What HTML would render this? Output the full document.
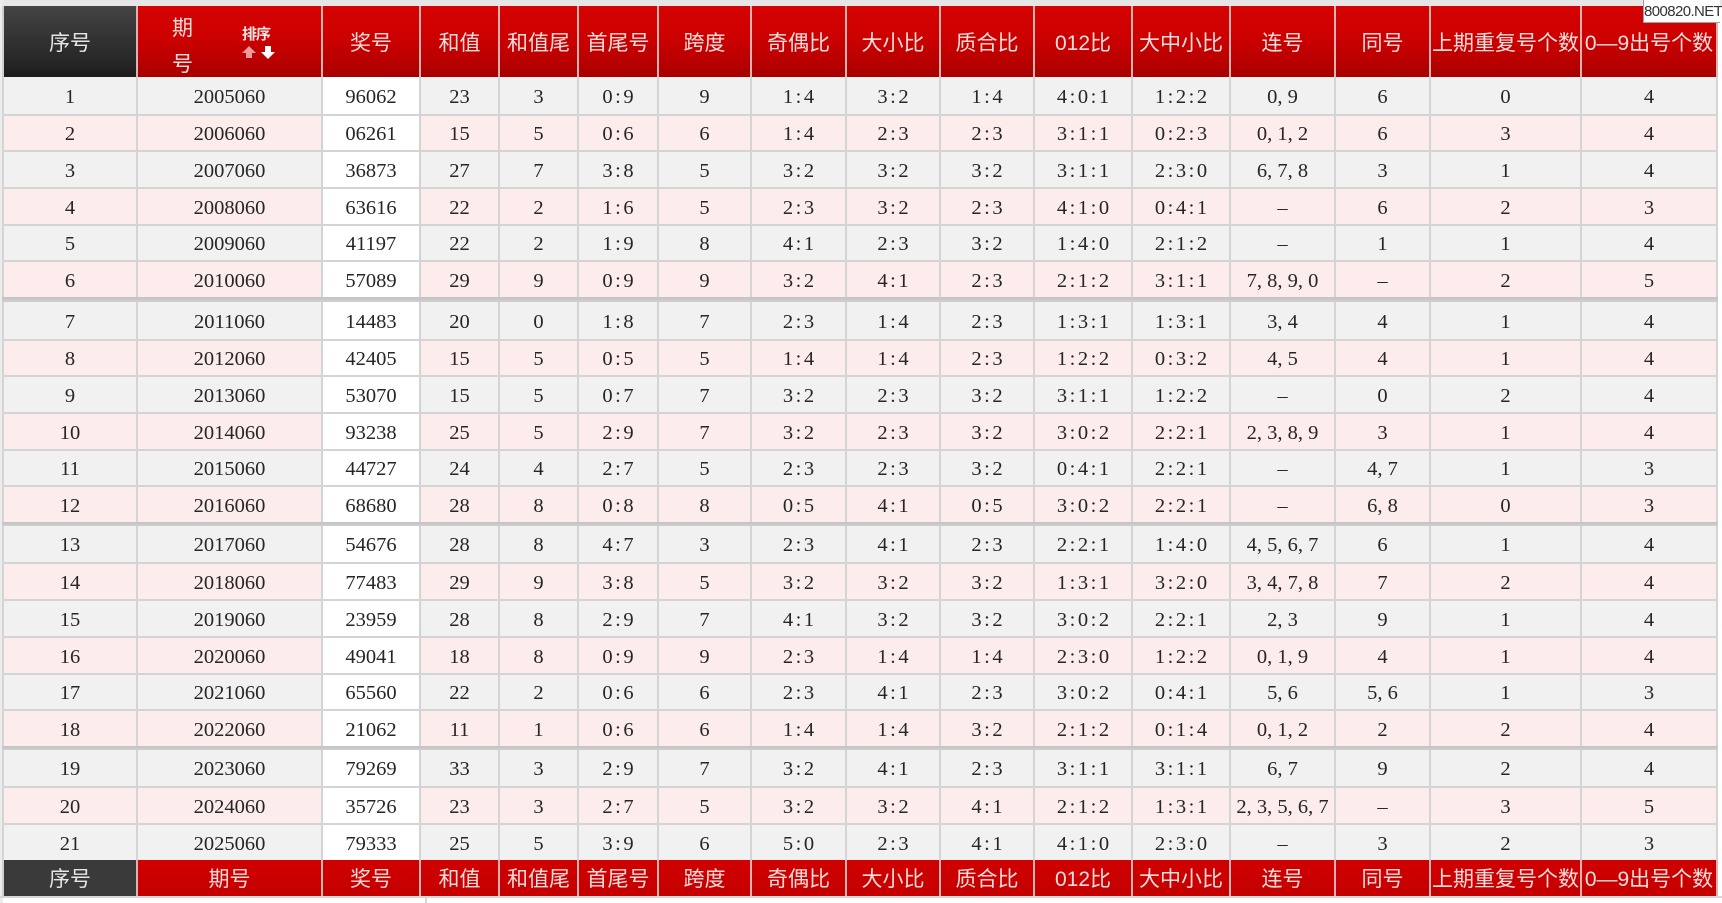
<!DOCTYPE html>
<html><head><meta charset="utf-8">
<style>
html,body{margin:0;padding:0}
body{width:1722px;height:903px;position:relative;overflow:hidden;background:#fff;font-family:"Liberation Serif","Noto Serif CJK SC",serif;}
.top{position:absolute;left:0;top:0;width:1722px;height:6px;background:#e6e6e6;border-bottom:0}
.lft{position:absolute;left:0;top:0;width:3px;height:903px;background:#ececec}
.r{position:absolute;left:2px;width:1716px;display:flex;box-sizing:border-box;border-top:2px solid #d4d4d4;color:#262626;font-size:20.5px}
.r.n{border-top:0}
.r span{box-sizing:border-box;border-left:2px solid #d4d4d4;display:flex;align-items:center;justify-content:center;height:100%;white-space:nowrap;padding-top:3px}
.r span:last-child{border-right:2px solid #d4d4d4}
.o{background:#f1f1f1}
.e{background:#fcecec}
.r span:nth-child(3){background:#fff}
.r span.s{letter-spacing:2.5px;padding-left:2.5px}
span:nth-child(1){width:134px}
span:nth-child(2){width:185px}
span:nth-child(3){width:98px}
span:nth-child(4){width:79px}
span:nth-child(5){width:79px}
span:nth-child(6){width:80px}
span:nth-child(7){width:93px}
span:nth-child(8){width:95px}
span:nth-child(9){width:94px}
span:nth-child(10){width:94px}
span:nth-child(11){width:98px}
span:nth-child(12){width:98px}
span:nth-child(13){width:105px}
span:nth-child(14){width:95px}
span:nth-child(15){width:151px}
span:nth-child(16){width:138px}
.sep{position:absolute;left:2px;width:1716px;background:linear-gradient(#c2c2c2,#d0d0d0)}
.h{position:absolute;left:2px;width:1716px;display:flex;box-sizing:border-box;font-family:"Liberation Sans","Noto Sans CJK SC",sans-serif;font-size:21px;color:#f9dede}
.h span{box-sizing:border-box;border-left:2px solid #dcb2b2;display:flex;align-items:center;justify-content:center;height:100%;white-space:nowrap;position:relative}
.h span:last-child{border-right:2px solid #dcb2b2}
.hd{top:6px;height:71px;background:linear-gradient(#d60303 0%,#cc0000 45%,#b80000 80%,#a60000 100%)}
.hd span:first-child{background:linear-gradient(#444 0%,#333 45%,#262626 80%,#1c1c1c 100%);color:#e6e6e6;border-left:2px solid #cfcfcf}
.ft{top:860px;height:36px;background:linear-gradient(#d00000,#c40000)}
.ft span:first-child{background:#3a3a3a;color:#e6e6e6;border-left:2px solid #cfcfcf}
.wm{position:absolute;left:1643px;top:0;width:76px;height:22px;background:#fff;border-left:1px solid #a0a0a0;border-bottom:1px solid #a0a0a0;font-family:"Liberation Sans",sans-serif;font-size:15px;color:#333;line-height:23px;text-align:center;letter-spacing:-0.6px}
.bot{position:absolute;left:0;top:896px;width:1722px;height:2px;background:#d6d6d6}
.bl{position:absolute;left:425px;top:896px;width:2px;height:7px;background:#d6d6d6}
</style></head><body>
<div class="top"></div>
<div class="lft"></div>

<div class="h hd">
<span>序号</span>
<span><b style="position:absolute;left:34px;top:6px;font-weight:normal">期</b><b style="position:absolute;left:34px;top:42px;font-weight:normal">号</b><b style="position:absolute;left:104px;top:17px;font-size:15px;color:#fde6e6;letter-spacing:-1px">排序</b><svg style="position:absolute;left:104px;top:39px" width="34" height="15" viewBox="0 0 34 15"><path d="M7 1 L14 8 L10 8 L10 13 L4 13 L4 8 L0 8 Z" fill="#e99c9c"/><path d="M19 7 L23 7 L23 1 L29 1 L29 7 L33 7 L26 14 Z" fill="#ffffff"/></svg></span>
<span>奖号</span><span>和值</span><span>和值尾</span><span>首尾号</span><span>跨度</span><span>奇偶比</span><span>大小比</span><span>质合比</span><span>012比</span><span>大中小比</span><span>连号</span><span>同号</span><span>上期重复号个数</span><span>0—9出号个数</span>
</div>

<div class="r o n" style="top:77px;height:37px"><span>1</span><span>2005060</span><span>96062</span><span>23</span><span>3</span><span class="s">0:9</span><span>9</span><span class="s">1:4</span><span class="s">3:2</span><span class="s">1:4</span><span class="s">4:0:1</span><span class="s">1:2:2</span><span>0, 9</span><span>6</span><span>0</span><span>4</span></div>
<div class="r e" style="top:114px;height:36px"><span>2</span><span>2006060</span><span>06261</span><span>15</span><span>5</span><span class="s">0:6</span><span>6</span><span class="s">1:4</span><span class="s">2:3</span><span class="s">2:3</span><span class="s">3:1:1</span><span class="s">0:2:3</span><span>0, 1, 2</span><span>6</span><span>3</span><span>4</span></div>
<div class="r o" style="top:150px;height:37px"><span>3</span><span>2007060</span><span>36873</span><span>27</span><span>7</span><span class="s">3:8</span><span>5</span><span class="s">3:2</span><span class="s">3:2</span><span class="s">3:2</span><span class="s">3:1:1</span><span class="s">2:3:0</span><span>6, 7, 8</span><span>3</span><span>1</span><span>4</span></div>
<div class="r e" style="top:187px;height:37px"><span>4</span><span>2008060</span><span>63616</span><span>22</span><span>2</span><span class="s">1:6</span><span>5</span><span class="s">2:3</span><span class="s">3:2</span><span class="s">2:3</span><span class="s">4:1:0</span><span class="s">0:4:1</span><span>–</span><span>6</span><span>2</span><span>3</span></div>
<div class="r o" style="top:224px;height:36px"><span>5</span><span>2009060</span><span>41197</span><span>22</span><span>2</span><span class="s">1:9</span><span>8</span><span class="s">4:1</span><span class="s">2:3</span><span class="s">3:2</span><span class="s">1:4:0</span><span class="s">2:1:2</span><span>–</span><span>1</span><span>1</span><span>4</span></div>
<div class="r e" style="top:260px;height:37px"><span>6</span><span>2010060</span><span>57089</span><span>29</span><span>9</span><span class="s">0:9</span><span>9</span><span class="s">3:2</span><span class="s">4:1</span><span class="s">2:3</span><span class="s">2:1:2</span><span class="s">3:1:1</span><span>7, 8, 9, 0</span><span>–</span><span>2</span><span>5</span></div>
<div class="sep" style="top:297px;height:5px"></div>
<div class="r o n" style="top:302px;height:37px"><span>7</span><span>2011060</span><span>14483</span><span>20</span><span>0</span><span class="s">1:8</span><span>7</span><span class="s">2:3</span><span class="s">1:4</span><span class="s">2:3</span><span class="s">1:3:1</span><span class="s">1:3:1</span><span>3, 4</span><span>4</span><span>1</span><span>4</span></div>
<div class="r e" style="top:339px;height:36px"><span>8</span><span>2012060</span><span>42405</span><span>15</span><span>5</span><span class="s">0:5</span><span>5</span><span class="s">1:4</span><span class="s">1:4</span><span class="s">2:3</span><span class="s">1:2:2</span><span class="s">0:3:2</span><span>4, 5</span><span>4</span><span>1</span><span>4</span></div>
<div class="r o" style="top:375px;height:37px"><span>9</span><span>2013060</span><span>53070</span><span>15</span><span>5</span><span class="s">0:7</span><span>7</span><span class="s">3:2</span><span class="s">2:3</span><span class="s">3:2</span><span class="s">3:1:1</span><span class="s">1:2:2</span><span>–</span><span>0</span><span>2</span><span>4</span></div>
<div class="r e" style="top:412px;height:37px"><span>10</span><span>2014060</span><span>93238</span><span>25</span><span>5</span><span class="s">2:9</span><span>7</span><span class="s">3:2</span><span class="s">2:3</span><span class="s">3:2</span><span class="s">3:0:2</span><span class="s">2:2:1</span><span>2, 3, 8, 9</span><span>3</span><span>1</span><span>4</span></div>
<div class="r o" style="top:449px;height:36px"><span>11</span><span>2015060</span><span>44727</span><span>24</span><span>4</span><span class="s">2:7</span><span>5</span><span class="s">2:3</span><span class="s">2:3</span><span class="s">3:2</span><span class="s">0:4:1</span><span class="s">2:2:1</span><span>–</span><span>4, 7</span><span>1</span><span>3</span></div>
<div class="r e" style="top:485px;height:37px"><span>12</span><span>2016060</span><span>68680</span><span>28</span><span>8</span><span class="s">0:8</span><span>8</span><span class="s">0:5</span><span class="s">4:1</span><span class="s">0:5</span><span class="s">3:0:2</span><span class="s">2:2:1</span><span>–</span><span>6, 8</span><span>0</span><span>3</span></div>
<div class="sep" style="top:522px;height:4px"></div>
<div class="r o n" style="top:526px;height:36px"><span>13</span><span>2017060</span><span>54676</span><span>28</span><span>8</span><span class="s">4:7</span><span>3</span><span class="s">2:3</span><span class="s">4:1</span><span class="s">2:3</span><span class="s">2:2:1</span><span class="s">1:4:0</span><span>4, 5, 6, 7</span><span>6</span><span>1</span><span>4</span></div>
<div class="r e" style="top:562px;height:37px"><span>14</span><span>2018060</span><span>77483</span><span>29</span><span>9</span><span class="s">3:8</span><span>5</span><span class="s">3:2</span><span class="s">3:2</span><span class="s">3:2</span><span class="s">1:3:1</span><span class="s">3:2:0</span><span>3, 4, 7, 8</span><span>7</span><span>2</span><span>4</span></div>
<div class="r o" style="top:599px;height:37px"><span>15</span><span>2019060</span><span>23959</span><span>28</span><span>8</span><span class="s">2:9</span><span>7</span><span class="s">4:1</span><span class="s">3:2</span><span class="s">3:2</span><span class="s">3:0:2</span><span class="s">2:2:1</span><span>2, 3</span><span>9</span><span>1</span><span>4</span></div>
<div class="r e" style="top:636px;height:37px"><span>16</span><span>2020060</span><span>49041</span><span>18</span><span>8</span><span class="s">0:9</span><span>9</span><span class="s">2:3</span><span class="s">1:4</span><span class="s">1:4</span><span class="s">2:3:0</span><span class="s">1:2:2</span><span>0, 1, 9</span><span>4</span><span>1</span><span>4</span></div>
<div class="r o" style="top:673px;height:36px"><span>17</span><span>2021060</span><span>65560</span><span>22</span><span>2</span><span class="s">0:6</span><span>6</span><span class="s">2:3</span><span class="s">4:1</span><span class="s">2:3</span><span class="s">3:0:2</span><span class="s">0:4:1</span><span>5, 6</span><span>5, 6</span><span>1</span><span>3</span></div>
<div class="r e" style="top:709px;height:37px"><span>18</span><span>2022060</span><span>21062</span><span>11</span><span>1</span><span class="s">0:6</span><span>6</span><span class="s">1:4</span><span class="s">1:4</span><span class="s">3:2</span><span class="s">2:1:2</span><span class="s">0:1:4</span><span>0, 1, 2</span><span>2</span><span>2</span><span>4</span></div>
<div class="sep" style="top:746px;height:4px"></div>
<div class="r o n" style="top:750px;height:36px"><span>19</span><span>2023060</span><span>79269</span><span>33</span><span>3</span><span class="s">2:9</span><span>7</span><span class="s">3:2</span><span class="s">4:1</span><span class="s">2:3</span><span class="s">3:1:1</span><span class="s">3:1:1</span><span>6, 7</span><span>9</span><span>2</span><span>4</span></div>
<div class="r e" style="top:786px;height:37px"><span>20</span><span>2024060</span><span>35726</span><span>23</span><span>3</span><span class="s">2:7</span><span>5</span><span class="s">3:2</span><span class="s">3:2</span><span class="s">4:1</span><span class="s">2:1:2</span><span class="s">1:3:1</span><span>2, 3, 5, 6, 7</span><span>–</span><span>3</span><span>5</span></div>
<div class="r o" style="top:823px;height:37px"><span>21</span><span>2025060</span><span>79333</span><span>25</span><span>5</span><span class="s">3:9</span><span>6</span><span class="s">5:0</span><span class="s">2:3</span><span class="s">4:1</span><span class="s">4:1:0</span><span class="s">2:3:0</span><span>–</span><span>3</span><span>2</span><span>3</span></div>

<div class="h ft">
<span>序号</span><span>期号</span><span>奖号</span><span>和值</span><span>和值尾</span><span>首尾号</span><span>跨度</span><span>奇偶比</span><span>大小比</span><span>质合比</span><span>012比</span><span>大中小比</span><span>连号</span><span>同号</span><span>上期重复号个数</span><span>0—9出号个数</span>
</div>
<div class="bot"></div>
<div class="bl"></div>
<div class="wm">800820.NET</div>
</body></html>
